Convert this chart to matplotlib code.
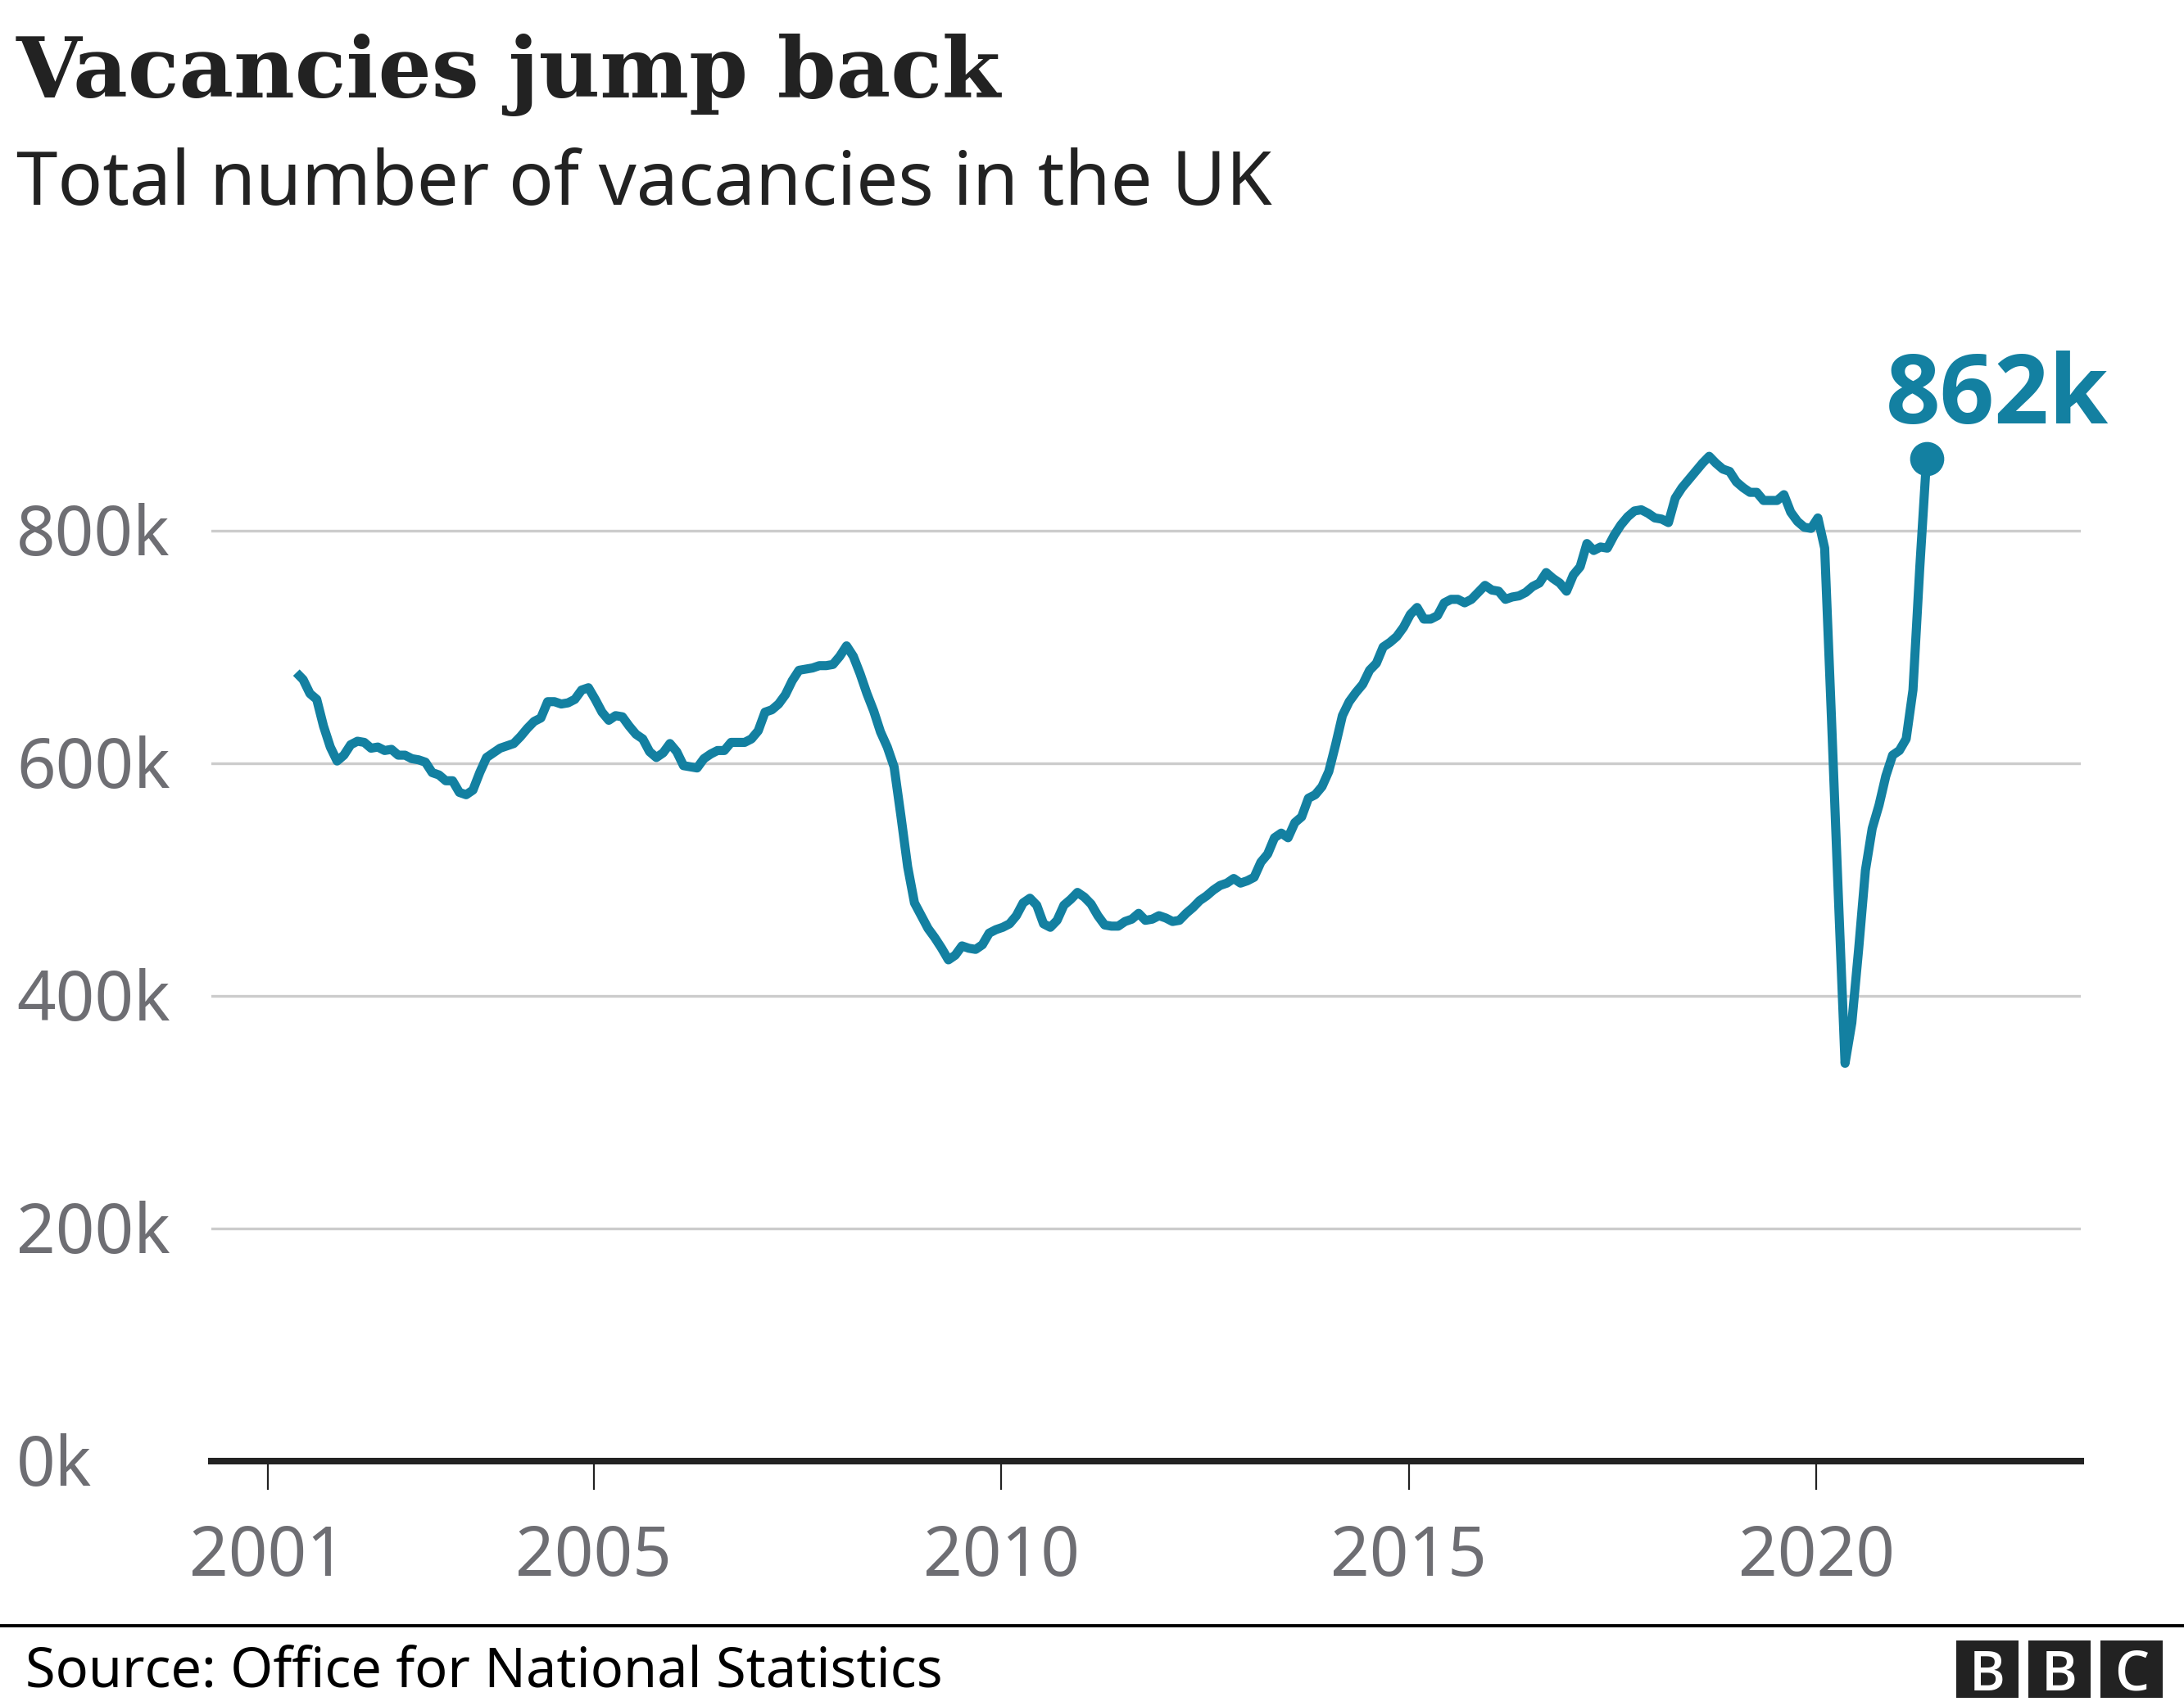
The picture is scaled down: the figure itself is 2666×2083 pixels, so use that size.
import numpy as np
import pandas as pd
import matplotlib
matplotlib.use("Agg")
import matplotlib.pyplot as plt
from matplotlib.transforms import blended_transform_factory
from matplotlib.patches import Rectangle

# ---------------- data (thousands of vacancies, rolling 3-month, mid-month) ----------------
first_period = "2001-05"
vacancies_k = [
    678, 672, 660, 655, 632, 614, 602, 607, 616, 619, 618, 613, 614, 611, 612, 607,
    607, 604, 603, 601, 592, 590, 585, 585, 575, 573, 577, 592, 605, 609, 613, 615,
    617, 623, 630, 636, 639, 653, 653, 651, 652, 655, 663, 665, 655, 644, 637, 641,
    640, 632, 625, 621, 610, 605, 609, 617, 610, 598, 597, 596, 604, 608, 611, 611,
    618, 618, 618, 621, 628, 644, 646, 651, 659, 671, 680, 681, 682, 684, 684, 685,
    692, 701, 692, 677, 660, 645, 627, 614, 597, 555, 511, 480, 469, 458, 450, 441,
    431, 435, 443, 441, 440, 444, 454, 457, 459, 462, 469, 480, 484, 478, 462, 459,
    465, 478, 483, 489, 485, 479, 469, 461, 460, 460, 464, 466, 471, 465, 466, 469,
    467, 464, 465, 471, 476, 482, 486, 491, 495, 497, 501, 497, 499, 502, 515, 522,
    536, 540, 536, 549, 554, 570, 573, 580, 593, 616, 641, 653, 661, 668, 680, 686,
    700, 704, 709, 717, 728, 734, 724, 724, 727, 738, 741, 741, 738, 741, 747, 753,
    749, 748, 741, 743, 744, 747, 752, 755, 764, 759, 755, 748, 762, 769, 789, 783,
    786, 785, 796, 805, 812, 817, 818, 815, 811, 810, 807, 828, 837, 844, 851, 858,
    864, 858, 853, 851, 842, 837, 833, 833, 826, 826, 826, 831, 816, 808, 803, 802,
    811, 785, 639, 488, 342, 377, 440, 508, 544, 564, 589, 607, 611, 621, 663, 768,
    862,
]
year_ticks = [2001, 2005, 2010, 2015, 2020]
y_ticks = [0, 200, 400, 600, 800]
y_tick_labels = ["0k", "200k", "400k", "600k", "800k"]
end_label = "862k"
title = "Vacancies jump back"
subtitle = "Total number of vacancies in the UK"
source = "Source: Office for National Statistics"

periods = pd.period_range(first_period, periods=len(vacancies_k), freq="M")
x = np.array([p.year + (p.month - 0.75) / 12 for p in periods])
y = np.array(vacancies_k, dtype=float)

# ---------------- style ----------------
TEAL = "#1380A1"
DARK = "#222222"
GREY = "#6e6e73"
GRID = "#cccccc"
W, H = 2666, 2083
DPI = 100

fig = plt.figure(figsize=(W / DPI, H / DPI), dpi=DPI)
fig.patch.set_facecolor("white")

def fx(px):
    return px / W

def fy(py):
    return 1 - py / H

# axes: x px 258..2540, y=0 at px 1784, 1k = 1.42 px
ax_left, ax_right = 258, 2540
y0_px, top_val = 1784, 1000
px_per_k = 1.42
ax_top_px = y0_px - top_val * px_per_k
ax = fig.add_axes([fx(ax_left), fy(y0_px), fx(ax_right - ax_left), (y0_px - ax_top_px) / H])

px_per_year = 99.5
x_left = 2001 - (326.5 - ax_left) / px_per_year
x_right = 2001 + (ax_right - 326.5) / px_per_year
ax.set_xlim(x_left, x_right)
ax.set_ylim(0, top_val)

for s in ["top", "right", "left"]:
    ax.spines[s].set_visible(False)
ax.spines["bottom"].set_color(DARK)
ax.spines["bottom"].set_linewidth(5.8)
ax.spines["bottom"].set_zorder(5)

ax.set_yticks(y_ticks)
ax.yaxis.grid(True, color=GRID, linewidth=2.4)
ax.tick_params(axis="y", length=0, labelleft=False)
ax.set_xticks(year_ticks)
ax.tick_params(axis="x", length=25, width=1.6, color=DARK, labelbottom=False)
ax.set_axisbelow(True)

ax.plot(x, y, color=TEAL, lw=8.0, solid_joinstyle="round", solid_capstyle="butt", zorder=6)
ax.plot([x[-1]], [y[-1]], "o", ms=29, color=TEAL, zorder=7, clip_on=False)
ax.annotate(end_label, xy=(x[-1], y[-1]), xytext=(62, 31), textcoords="offset points",
            ha="center", va="baseline", fontsize=84, fontweight="bold",
            family=["Open Sans", "DejaVu Sans"], color=TEAL, annotation_clip=False)

# y tick labels, left aligned at figure edge, baseline 30px under gridline
ytr = blended_transform_factory(fig.transFigure, ax.transData)
for v, lab in zip(y_ticks, y_tick_labels):
    ax.text(fx(20), v - 30 / px_per_k, lab, transform=ytr, ha="left", va="baseline",
            fontsize=60, family="Noto Sans", color=GREY, clip_on=False)

# x tick labels
xtr = blended_transform_factory(ax.transData, fig.transFigure)
for yr in year_ticks:
    ax.text(yr, fy(1924), str(yr), transform=xtr, ha="center", va="baseline",
            fontsize=60, family="Noto Sans", color=GREY, clip_on=False)

# titles
def fit_text(t, target_px):
    fig.canvas.draw()
    r = fig.canvas.get_renderer()
    w = t.get_window_extent(r).width
    t.set_fontsize(t.get_fontsize() * target_px / w)

t1 = fig.text(fx(20), fy(119), title, ha="left", va="baseline", fontsize=80,
              family="DejaVu Serif", fontweight="bold", color=DARK)
t2 = fig.text(fx(20), fy(250), subtitle, ha="left", va="baseline", fontsize=64,
              family="Noto Sans", color=DARK)
t3 = fig.text(fx(31), fy(2059), source, ha="left", va="baseline", fontsize=48,
              family="Noto Sans", color="black")
t4 = ax.texts[0] if False else None
fit_text(t1, 1202)
fit_text(t2, 1531)
fit_text(t3, 1120)

# footer rule
fig.add_artist(plt.Line2D([0, 1], [fy(1985), fy(1985)], transform=fig.transFigure,
                          color="black", lw=2.8))

# BBC blocks
blocks_x = [2388, 2476, 2564]
for bx, letter in zip(blocks_x, "BBC"):
    fig.add_artist(Rectangle((fx(bx), fy(2073)), fx(76), 70 / H, transform=fig.transFigure,
                             facecolor=DARK, edgecolor="none"))
    fig.text(fx(bx + 38), fy(2038), letter, ha="center", va="center_baseline",
             fontsize=48, family=["Open Sans", "DejaVu Sans"], fontweight="semibold",
             color="white")

fig.savefig("out.png", dpi=DPI, facecolor="white")
